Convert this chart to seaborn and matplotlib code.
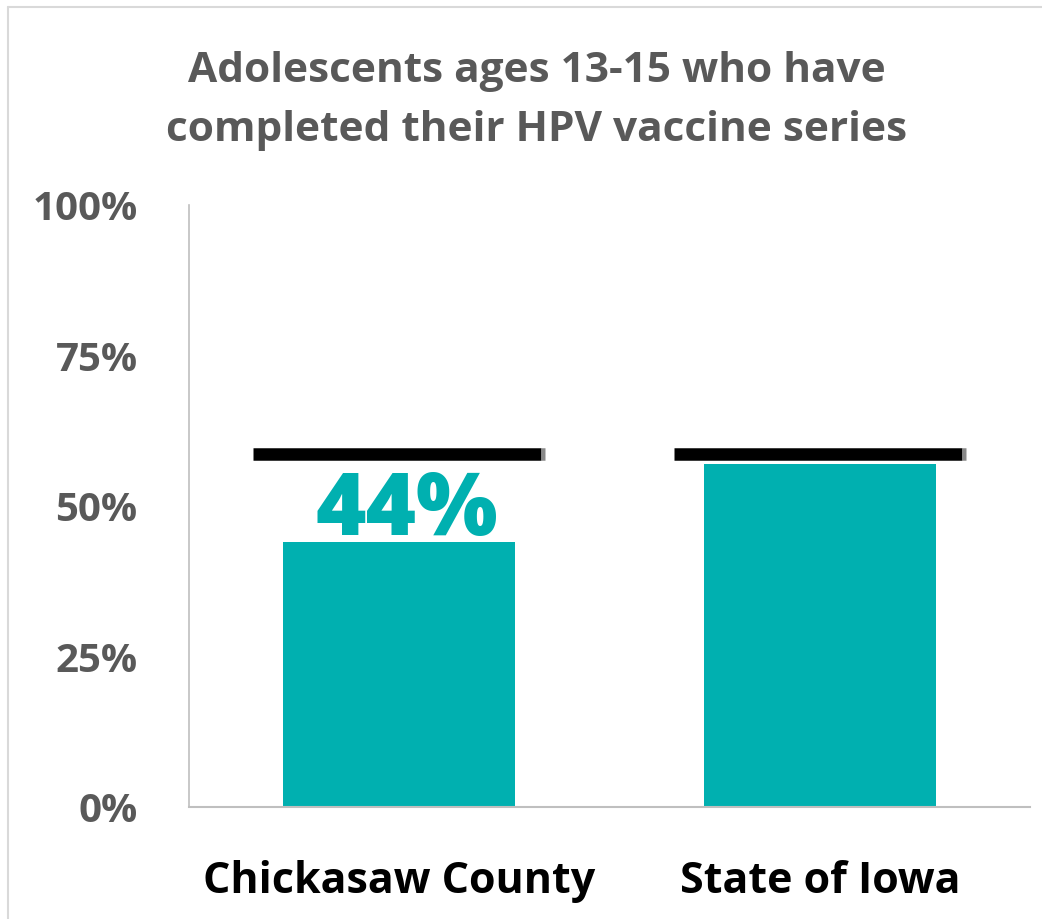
import matplotlib
matplotlib.use("Agg")
import matplotlib.pyplot as plt
import seaborn as sns
import pandas as pd
from matplotlib.lines import Line2D

categories = ["Chickasaw County", "State of Iowa"]
values = [44, 57]
targets = [58.6, 58.6]
yticks = [0, 25, 50, 75, 100]
ytick_labels = ["0%", "25%", "50%", "75%", "100%"]
title = "Adolescents ages 13-15 who have\ncompleted their HPV vaccine series"
value_label = "44%"

sns.set_theme(style="white")
plt.rcParams['font.family'] = ['Open Sans', 'DejaVu Sans']

teal = "#00B0B0"
gray_text = "#595959"

W, H = 1042, 919
fig = plt.figure(figsize=(W / 100, H / 100), dpi=100)
ax = fig.add_axes([189 / W, (H - 807) / H, (1030 - 189) / W, (807 - 205) / H])

df = pd.DataFrame({"cat": categories, "val": values})
sns.barplot(data=df, x="cat", y="val", color=teal, width=0.552, ax=ax,
            saturation=1, edgecolor="none")

# target lines
hw = 0.695 / 2
for i, t in enumerate(targets):
    ax.plot([i - hw, i + hw - 0.01], [t, t], color="black", lw=9, solid_capstyle="butt", zorder=5)
    ax.plot([i + hw - 0.01, i + hw], [t, t], color="#888888", lw=9, solid_capstyle="butt", zorder=5)

ax.set_ylim(0, 100)
ax.set_xlim(-0.5, 1.5)
ax.set_yticks(yticks)
ax.set_yticklabels(ytick_labels, fontsize=29, fontweight="bold", color=gray_text)
ax.set_xticks(range(len(categories)))
ax.set_xticklabels(categories, fontsize=31, fontweight="bold", color="black")
ax.tick_params(axis="y", length=0, pad=37)
ax.tick_params(axis="x", length=0, pad=38)
ax.set_xlabel("")
ax.set_ylabel("")
for s in ["top", "right"]:
    ax.spines[s].set_visible(False)
ax.spines["left"].set_color("#BFBFBF")
ax.spines["bottom"].set_color("#BFBFBF")
ax.spines["left"].set_linewidth(1.2)
ax.spines["bottom"].set_linewidth(1.5)
for lbl in ax.get_yticklabels():
    lbl.set_horizontalalignment("right")

ax.text(0.017, values[0] + 1.2, value_label, ha="center", va="baseline", fontsize=62,
        fontweight="heavy", color=teal)

fig.text(537 / W, 1 - 101 / H, title, ha="center", va="center", fontsize=30.5,
         fontweight="bold", color=gray_text, linespacing=1.55)

# chart border
fig.add_artist(Line2D([8 / W, 8 / W], [0, 1 - 7 / H], transform=fig.transFigure, color="#D9D9D9", lw=1.5))
fig.add_artist(Line2D([8 / W, 1], [1 - 7 / H, 1 - 7 / H], transform=fig.transFigure, color="#D9D9D9", lw=1.5))

fig.savefig("out.png", dpi=100)
